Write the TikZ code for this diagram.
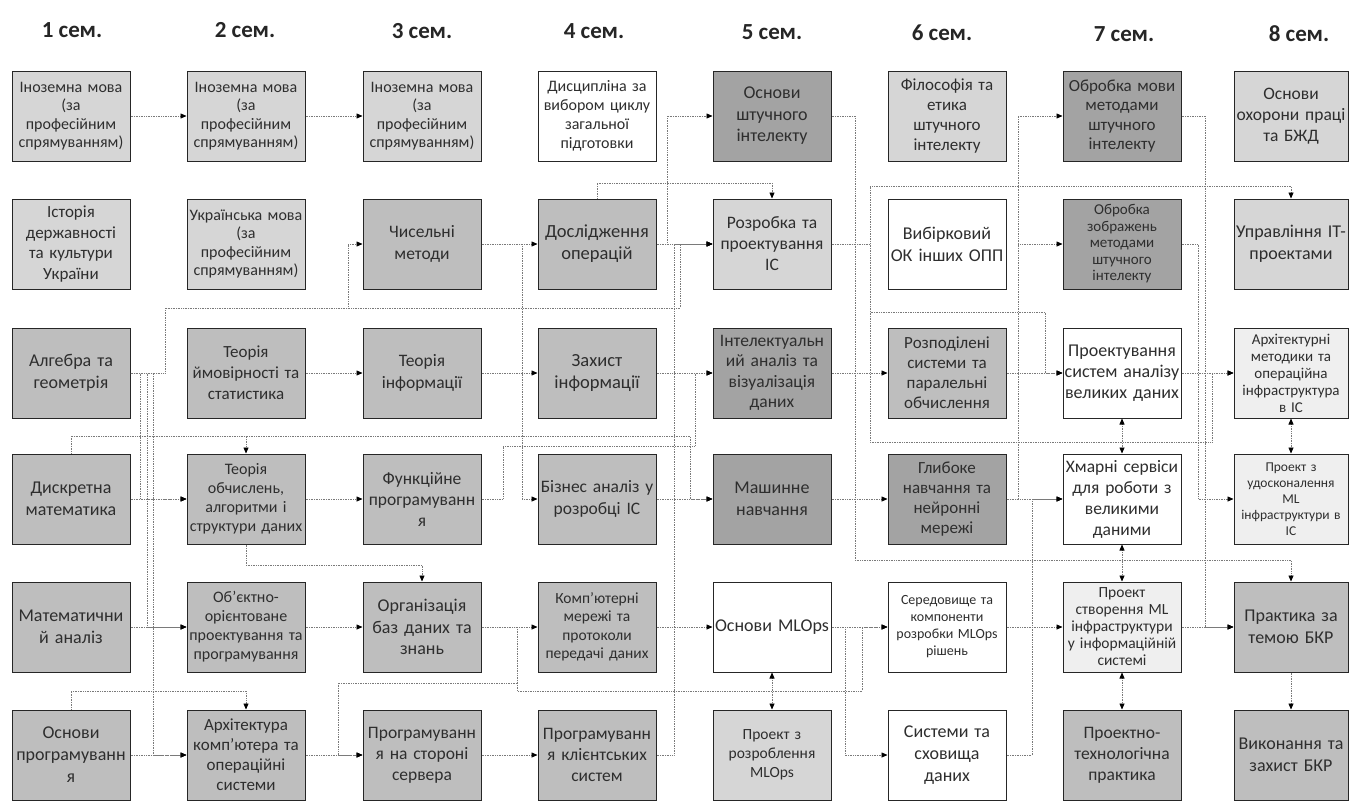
\documentclass[tikz,border=0pt]{standalone}
\usepackage{fontspec}
\setmainfont{Carlito}
\usetikzlibrary{arrows.meta}
\definecolor{cL}{HTML}{D6D6D6}
\definecolor{cM}{HTML}{BEBEBE}
\definecolor{cD}{HTML}{A3A3A3}
\definecolor{cV}{HTML}{EFEFEF}
\definecolor{cLine}{HTML}{7A7A7A}
\definecolor{cTxt}{HTML}{2E2E2E}
\newcommand\myfs[2]{\fontsize{#1}{#2}\selectfont}
\tikzset{
  bx/.style={draw=black!85, line width=1pt, minimum width=118pt, minimum height=90pt,
    text width=116pt, align=center, inner sep=0pt, text=cTxt},
  bx8/.style={bx, minimum width=114pt, text width=112pt},
  conn/.style={cLine, densely dotted, line width=0.7pt, -{Triangle[length=6pt,width=5pt,color=black]}},
  conn2/.style={cLine, densely dotted, line width=0.7pt, {Triangle[length=6pt,width=5pt,color=black]}-{Triangle[length=6pt,width=5pt,color=black]}},
  head/.style={font=\bfseries\myfs{23}{27}, text=black!85}
}
\begin{document}
\begin{tikzpicture}[x=1pt,y=-1pt]
\useasboundingbox[fill=white] (0,0) rectangle (1350,807);
% headings
\node[head] (h1) at (72,30) {1 сем.};
\node[head] (h2) at (245,30) {2 сем.};
\node[head] (h3) at (422,31) {3 сем.};
\node[head] (h4) at (594,31) {4 сем.};
\node[head] (h5) at (772,32) {5 сем.};
\node[head] (h6) at (942,33) {6 сем.};
\node[head] (h7) at (1124,34) {7 сем.};
\node[head] (h8) at (1299,34) {8 сем.};
% column 1
\node[bx,fill=cL,font=\myfs{16}{18.5}] (in1) at (71,116) {Іноземна мова\\(за\\професійним\\спрямуванням)};
\node[bx,fill=cL,font=\myfs{17}{20.5}] (ist) at (71,244) {Історія\\державності\\та культури\\України};
\node[bx,fill=cM,font=\myfs{18}{22}] (alg) at (71,373) {Алгебра та\\геометрія};
\node[bx,fill=cM,font=\myfs{18}{22}] (dys) at (71,499) {Дискретна\\математика};
\node[bx,fill=cM,font=\myfs{18}{22}] (matan) at (71,627) {Математични\\й аналіз};
\node[bx,fill=cM,font=\myfs{18}{22}] (osnprog) at (71,755) {Основи\\програмуванн\\я};
% column 2
\node[bx,fill=cL,font=\myfs{16}{18.5}] (in2) at (246,116) {Іноземна мова\\(за\\професійним\\спрямуванням)};
\node[bx,fill=cL,font=\myfs{16}{18.5}] (ukr) at (246,244) {Українська мова\\(за\\професійним\\спрямуванням)};
\node[bx,fill=cM,font=\myfs{17}{21}] (tv) at (246,373) {Теорія\\ймовірності та\\статистика};
\node[bx,fill=cM,font=\myfs{16}{19}] (tob) at (246,499) {Теорія\\обчислень,\\алгоритми і\\структури даних};
\node[bx,fill=cM,font=\myfs{16}{19}] (oop) at (246,627) {Об’єктно-\\орієнтоване\\проектування та\\програмування};
\node[bx,fill=cM,font=\myfs{17}{20}] (arch) at (246,755) {Архітектура\\комп’ютера та\\операційні\\системи};
% column 3
\node[bx,fill=cL,font=\myfs{16}{18.5}] (in3) at (422,116) {Іноземна мова\\(за\\професійним\\спрямуванням)};
\node[bx,fill=cM,font=\myfs{17.5}{22}] (chys) at (422,244) {Чисельні\\методи};
\node[bx,fill=cM,font=\myfs{17.5}{22}] (teorinf) at (422,373) {Теорія\\інформації};
\node[bx,fill=cM,font=\myfs{17.5}{21}] (func) at (422,499) {Функційне\\програмуванн\\я};
\node[bx,fill=cM,font=\myfs{18}{21.5}] (org) at (422,627) {Організація\\баз даних та\\знань};
\node[bx,fill=cM,font=\myfs{17.5}{21}] (progs) at (422,755) {Програмуванн\\я на стороні\\сервера};
% column 4
\node[bx,fill=white,font=\myfs{16}{19}] (dysc) at (597,116) {Дисципліна за\\вибором циклу\\загальної\\підготовки};
\node[bx,fill=cM,font=\myfs{18.5}{22}] (dosl) at (597,244) {Дослідження\\операцій};
\node[bx,fill=cM,font=\myfs{18.5}{22}] (zakh) at (597,373) {Захист\\інформації};
\node[bx,fill=cM,font=\myfs{17.5}{22}] (biz) at (597,499) {Бізнес аналіз у\\розробці ІС};
\node[bx,fill=cM,font=\myfs{15.5}{18.5}] (komp) at (597,627) {Комп’ютерні\\мережі та\\протоколи\\передачі даних};
\node[bx,fill=cM,font=\myfs{17.5}{21}] (progc) at (597,755) {Програмуванн\\я клієнтських\\систем};
% column 5
\node[bx,fill=cD,font=\myfs{18}{21.5}] (osnai) at (772,116) {Основи\\штучного\\інтелекту};
\node[bx,fill=cL,font=\myfs{17.5}{21}] (rozr) at (772,244) {Розробка та\\проектування\\ІС};
\node[bx,fill=cD,font=\myfs{17.5}{20.5}] (intel) at (772,373) {Інтелектуальн\\ий аналіз та\\візуалізація\\даних};
\node[bx,fill=cD,font=\myfs{18}{22}] (mash) at (772,499) {Машинне\\навчання};
\node[bx,fill=white,font=\myfs{18}{22}] (mlops) at (772,627) {Основи MLOps};
\node[bx,fill=cL,font=\myfs{15.5}{19}] (pmlops) at (772,755) {Проект з\\розроблення\\MLOps};
% column 6
\node[bx,fill=cL,font=\myfs{17}{20}] (fil) at (947,116) {Філософія та\\етика\\штучного\\інтелекту};
\node[bx,fill=white,font=\myfs{18}{22}] (vyb) at (947,244) {Вибірковий\\ОК інших ОПП};
\node[bx,fill=cM,font=\myfs{17}{20}] (rozp) at (947,373) {Розподілені\\системи та\\паралельні\\обчислення};
\node[bx,fill=cD,font=\myfs{17}{20}] (glyb) at (947,499) {Глибоке\\навчання та\\нейронні\\мережі};
\node[bx,fill=white,font=\myfs{14}{17}] (sered) at (947,627) {Середовище та\\компоненти\\розробки MLOps\\рішень};
\node[bx,fill=white,font=\myfs{18}{22}] (syst) at (947,755) {Системи та\\сховища\\даних};
% column 7
\node[bx,fill=cD,font=\myfs{17}{19.5}] (obm) at (1122,116) {Обробка мови\\методами\\штучного\\інтелекту};
\node[bx,fill=cD,font=\myfs{15}{16.5}] (obz) at (1122,244) {Обробка\\зображень\\методами\\штучного\\інтелекту};
\node[bx,fill=white,font=\myfs{18}{21}] (pbd) at (1122,373) {Проектування\\систем аналізу\\великих даних};
\node[bx,fill=white,font=\myfs{17.5}{21}] (khm) at (1122,499) {Хмарні сервіси\\для роботи з\\великими\\даними};
\node[bx,fill=cV,font=\myfs{15.5}{17}] (pml) at (1122,627) {Проект\\створення ML\\інфраструктури\\у інформаційній\\системі};
\node[bx,fill=cM,font=\myfs{17.5}{21}] (ptp) at (1122,755) {Проектно-\\технологічна\\практика};
% column 8
\node[bx8,fill=cL,font=\myfs{17.5}{21}] (ohor) at (1291,116) {Основи\\охорони праці\\та БЖД};
\node[bx8,fill=cL,font=\myfs{18}{22}] (upr) at (1291,244) {Управління ІТ-\\проектами};
\node[bx8,fill=cV,font=\myfs{15}{17}] (arkh) at (1291,373) {Архітектурні\\методики та\\операційна\\інфраструктура\\в ІС};
\node[bx8,fill=cV,font=\myfs{13.5}{16}] (udos) at (1291,499) {Проект з\\удосконалення\\ML\\інфраструктури в\\ІС};
\node[bx8,fill=cM,font=\myfs{18}{22}] (prak) at (1291,627) {Практика за\\темою БКР};
\node[bx8,fill=cM,font=\myfs{18}{22}] (vyk) at (1291,755) {Виконання та\\захист БКР};
% ---- connectors col1 -> col2/3
\draw[conn] (in1) -- (in2);
\draw[conn] (in2) -- (in3);
\draw[conn] (alg.east) -- (165,373) -- (165,308) -- (348,308) -- (348,244) -- (chys.west);
\draw[conn] (alg.east) -- (165,373) -- (165,308) -- (680,308) -- (680,244) -- (rozr.west);
\draw[conn] (alg.east) -- (140,373) -- (140,499) -- (tob.west);
\draw[conn] (alg.east) -- (147,373) -- (147,627) -- (oop.west);
\draw[conn] (alg.east) -- (153,373) -- (153,755) -- (arch.west);
\draw[conn] (dys) -- (tob);
\draw[conn] (dys.north) -- (71,436) -- (246,436) -- (tob.north);
\draw[conn] (dys.north) -- (71,436) -- (690,436) -- (690,499) -- (mash.west);
\draw[conn] (matan) -- (oop);
\draw[conn] (osnprog) -- (arch);
\draw[conn] (osnprog.north) -- (71,691) -- (246,691) -- (arch.north);
% col2 -> col3
\draw[conn] (tv) -- (teorinf);
\draw[conn] (tob) -- (func);
\draw[conn] (oop) -- (org);
\draw[conn] (arch) -- (progs);
\draw[conn] (tob.south) -- (246,565) -- (422,565) -- (org.north);
\draw[conn] (org.east) -- (517,627) -- (517,683) -- (338,683) -- (338,755) -- (progs.west);
% col3 -> col4/5
\draw[conn] (chys) -- (dosl);
\draw[conn] (chys.east) -- (522,244) -- (522,499) -- (biz.west);
\draw[conn] (teorinf) -- (zakh);
\draw[conn] (func.east) -- (503,499) -- (503,446) -- (695,446) -- (695,373) -- (intel.west);
\draw[conn] (org) -- (komp);
\draw[conn] (progs) -- (progc);
\draw[conn] (org.east) -- (517,627) -- (517,691) -- (862,691) -- (862,627) -- (sered.west);
% col4 -> col5
\draw[conn] (dosl.east) -- (667,244) -- (667,116) -- (osnai.west);
\draw[conn] (dosl.north) -- (597,183) -- (772,183) -- (rozr.north);
\draw[conn] (dosl) -- (rozr);
\draw[conn] (zakh) -- (intel);
\draw[conn] (biz) -- (mash);
\draw[conn] (komp) -- (mlops);
\draw[conn] (progc.east) -- (674,755) -- (674,244) -- (rozr.west);
% col5 -> col6 and beyond
\draw[conn] (osnai.east) -- (855,116) -- (855,560) -- (1291,560) -- (prak.north);
\draw[conn] (rozr.east) -- (870,244) -- (870,186) -- (1291,186) -- (upr.north);
\draw[conn] (rozr.east) -- (870,244) -- (870,312) -- (1045,312) -- (1045,373) -- (pbd.west);
\draw[conn] (rozr.east) -- (870,244) -- (870,442) -- (1212,442) -- (1212,373) -- (arkh.west);
\draw[conn] (intel) -- (rozp);
\draw[conn] (mash) -- (glyb);
\draw[conn] (mlops) -- (sered);
\draw[conn] (mlops.east) -- (845,627) -- (845,755) -- (syst.west);
\draw[conn2] (mlops) -- (pmlops);
% col6 -> col7
\draw[conn] (glyb.east) -- (1018,499) -- (1018,116) -- (obm.west);
\draw[conn] (glyb.east) -- (1018,499) -- (1018,244) -- (obz.west);
\draw[conn] (rozp) -- (pbd);
\draw[conn] (glyb) -- (khm);
\draw[conn] (sered) -- (pml);
\draw[conn] (syst.east) -- (1032,755) -- (1032,499) -- (khm.west);
% col7 -> col8
\draw[conn] (obm.east) -- (1205,116) -- (1205,627) -- (prak.west);
\draw[conn] (obz.east) -- (1198,244) -- (1198,499) -- (udos.west);
\draw[conn] (pbd) -- (arkh);
\draw[conn] (pml) -- (prak);
\draw[conn2] (pbd) -- (khm);
\draw[conn2] (khm) -- (pml);
\draw[conn2] (pml) -- (ptp);
\draw[conn2] (arkh) -- (udos);
\draw[conn] (prak) -- (vyk);
\end{tikzpicture}
\end{document}
